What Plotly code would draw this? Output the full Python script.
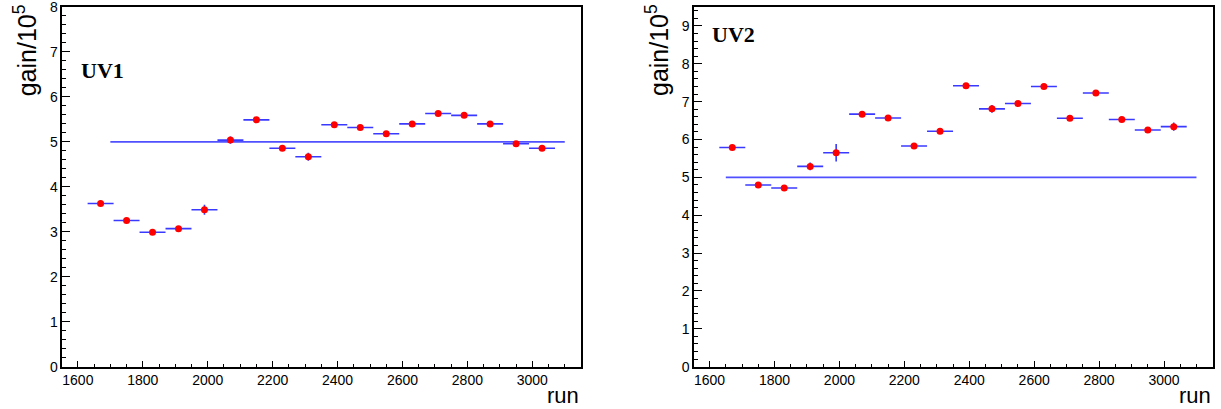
import plotly.graph_objects as go

# ---- data ----
runs = [1670, 1750, 1830, 1910, 1990, 2070, 2150, 2230, 2310,
        2390, 2470, 2550, 2630, 2710, 2790, 2870, 2950, 3030]
run_halfwidth = [40] * len(runs)

gain_uv1 = [3.63, 3.25, 2.99, 3.07, 3.49, 5.04, 5.49, 4.86, 4.67,
            5.38, 5.32, 5.18, 5.40, 5.63, 5.59, 5.40, 4.96, 4.86]
err_uv1 = [0.04, 0.04, 0.04, 0.04, 0.11, 0.08, 0.04, 0.04, 0.09,
           0.04, 0.04, 0.04, 0.04, 0.04, 0.04, 0.04, 0.05, 0.04]

gain_uv2 = [5.79, 4.80, 4.72, 5.29, 5.65, 6.67, 6.57, 5.83, 6.22,
            7.42, 6.81, 6.95, 7.40, 6.56, 7.23, 6.53, 6.25, 6.34]
err_uv2 = [0.05, 0.05, 0.05, 0.10, 0.23, 0.05, 0.05, 0.05, 0.05,
           0.05, 0.10, 0.05, 0.05, 0.05, 0.05, 0.05, 0.05, 0.11]

ref_uv1_x = [1700, 3100]
ref_uv1_y = [5, 5]
ref_uv2_x = [1650, 3100]
ref_uv2_y = [5, 5]

labels = ["UV1", "UV2"]
x_range = [1552, 3150]
y_ranges = [[0, 8], [0, 9.5]]

W, H = 1221, 409
BLUE = "#3a3aff"
LINEBLUE = "#5050ff"
FONT = "Liberation Sans, Arial, Helvetica, sans-serif"

fig = go.Figure()

panels = [
    (gain_uv1, err_uv1, ref_uv1_x, ref_uv1_y, "x", "y"),
    (gain_uv2, err_uv2, ref_uv2_x, ref_uv2_y, "x2", "y2"),
]
for g, e, rx, ry, xa, ya in panels:
    fig.add_trace(go.Scatter(
        x=rx, y=ry, mode="lines", xaxis=xa, yaxis=ya,
        line=dict(color=LINEBLUE, width=1.6), showlegend=False, hoverinfo="skip"))
    fig.add_trace(go.Scatter(
        x=runs, y=g, mode="markers", xaxis=xa, yaxis=ya,
        marker=dict(color="#ff0000", size=7, line=dict(width=0)),
        error_x=dict(type="data", array=run_halfwidth, color=BLUE, thickness=1.6, width=0),
        error_y=dict(type="data", array=e, color=BLUE, thickness=1.6, width=0),
        showlegend=False))

px_l = [62.3, 581.0]
px_r = [694.0, 1212.7]
y_top, y_bot = 7.0, 366.7
ydom = [1 - y_bot / H, 1 - y_top / H]

def xaxis(dom, anchor):
    return dict(domain=[dom[0] / W, dom[1] / W], anchor=anchor, range=x_range,
                automargin=False, ticklabeloverflow="allow",
                showgrid=False, zeroline=False, showline=True, linecolor="black",
                linewidth=1.5, mirror=True, ticks="inside", ticklen=6, tickwidth=1,
                tickcolor="black", dtick=200, tick0=1600,
                tickfont=dict(family=FONT, size=14, color="black"),
                minor=dict(ticks="inside", ticklen=3, dtick=50, tick0=1600,
                           tickcolor="black", showgrid=False))

def yaxis(rng, anchor):
    return dict(domain=ydom, anchor=anchor, range=rng,
                automargin=False, ticklabeloverflow="allow",
                showgrid=False, zeroline=False, showline=True, linecolor="black",
                linewidth=1.5, mirror=True, ticks="inside", ticklen=8, tickwidth=1,
                tickcolor="black", dtick=1, tick0=0,
                tickfont=dict(family=FONT, size=14, color="black"),
                minor=dict(ticks="inside", ticklen=4, dtick=0.2, tick0=0,
                           tickcolor="black", showgrid=False))

fig.update_layout(
    width=W, height=H, margin=dict(l=0, r=0, t=0, b=0, autoexpand=False),
    paper_bgcolor="white", plot_bgcolor="white",
    xaxis=xaxis(px_l, "y"), yaxis=yaxis(y_ranges[0], "x"),
    xaxis2=xaxis(px_r, "y2"), yaxis2=yaxis(y_ranges[1], "x2"),
)

annotations = []
for i, (xl, xr) in enumerate([px_l, px_r]):
    annotations.append(dict(
        text="gain/10<sup>5</sup>", textangle=-90, xref="paper", yref="paper",
        x=(xl - 37) / W, y=1 - 2 / H, xanchor="center", yanchor="top",
        showarrow=False, font=dict(family=FONT, size=25, color="black")))
    annotations.append(dict(
        text="run", xref="paper", yref="paper",
        x=xr / W, y=1 - 395 / H, xanchor="right", yanchor="middle",
        showarrow=False, font=dict(family=FONT, size=22, color="black")))

annotations.append(dict(text="<b>UV1</b>", xref="paper", yref="paper",
                        x=79 / W, y=1 - 70 / H, xanchor="left", yanchor="middle",
                        showarrow=False,
                        font=dict(family="Liberation Serif, Times New Roman, serif",
                                  size=22, color="black")))
annotations.append(dict(text="<b>UV2</b>", xref="paper", yref="paper",
                        x=710 / W, y=1 - 34.5 / H, xanchor="left", yanchor="middle",
                        showarrow=False,
                        font=dict(family="Liberation Serif, Times New Roman, serif",
                                  size=22, color="black")))
fig.update_layout(annotations=annotations)

fig.write_html("out.html")
